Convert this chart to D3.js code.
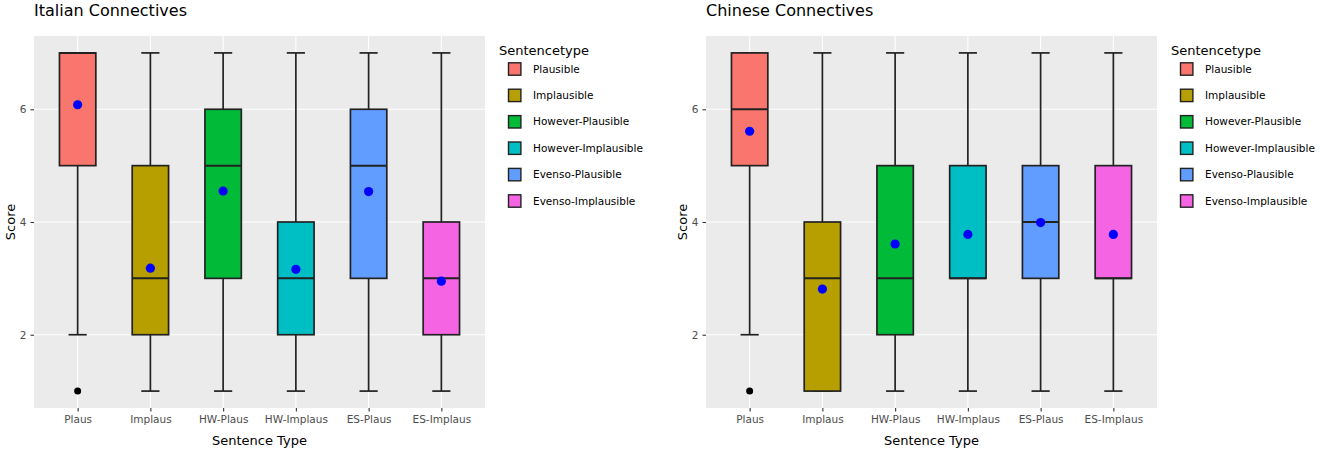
<!DOCTYPE html>
<html>
<head>
<meta charset="utf-8">
<script src="https://cdn.jsdelivr.net/npm/d3@7"></script>
<style>
  body { margin: 0; background: #fff; }
  svg text { font-family: "DejaVu Sans", Verdana, sans-serif; }
</style>
</head>
<body>
<svg id="chart"></svg>
<script>
// categories / legend
const categories = ["Plaus", "Implaus", "HW-Plaus", "HW-Implaus", "ES-Plaus", "ES-Implaus"];
const legendLabels = ["Plausible", "Implausible", "However-Plausible", "However-Implausible", "Evenso-Plausible", "Evenso-Implausible"];
const yTicks = [2, 4, 6];

// Italian connectives - box stats
const itLower = [2, 1, 1, 1, 1, 1];
const itQ1 = [5, 2, 3, 2, 3, 2];
const itMedian = [7, 3, 5, 3, 5, 3];
const itQ3 = [7, 5, 6, 4, 6, 4];
const itUpper = [7, 7, 7, 7, 7, 7];
const itMean = [6.08, 3.18, 4.55, 3.16, 4.54, 2.95];
const itOutliers = [[1], [], [], [], [], []];

// Chinese connectives
const zhLower = [2, 1, 1, 1, 1, 1];
const zhQ1 = [5, 1, 2, 3, 3, 3];
const zhMedian = [6, 3, 3, 3, 4, 3];
const zhQ3 = [7, 4, 5, 5, 5, 5];
const zhUpper = [7, 7, 7, 7, 7, 7];
const zhMean = [5.61, 2.81, 3.61, 3.78, 3.99, 3.78];
const zhOutliers = [[1], [], [], [], [], []];

const palette = ["#F8766D", "#B79F00", "#00BA38", "#00BFC4", "#619CFF", "#F564E3"];

function buildRows(lower, q1, median, q3, upper, mean, outliers) {
  return categories.map((c, i) => ({
    cat: c, lower: lower[i], q1: q1[i], median: median[i], q3: q3[i],
    upper: upper[i], mean: mean[i], outliers: outliers[i], fill: palette[i]
  }));
}

class BoxPanel {

    constructor(_config, _data) {
      this.config = {
        svg: _config.svg,
        title: _config.title,
        left: _config.left,
        top: _config.top || 36,
        width: _config.width || 451,
        height: _config.height || 372
      }
      this.data = _data;
      this.initVis();
    }

    initVis() {
      let vis = this;

      vis.xScale = d3.scalePoint()
          .domain(categories)
          .range([0, vis.config.width])
          .padding(0.6);

      // ggplot default expansion: 5% of 1..7
      vis.yScale = d3.scaleLinear()
          .domain([0.7, 7.3])
          .range([vis.config.height, 0]);

      vis.g = vis.config.svg.append('g');

      vis.chart = vis.g.append('g')
          .attr('transform', `translate(${vis.config.left},${vis.config.top})`);

      vis.chart.append('rect')
          .attr('width', vis.config.width)
          .attr('height', vis.config.height)
          .attr('fill', '#EBEBEB');

      vis.renderVis();
    }

    renderVis() {
      let vis = this;
      let step = vis.xScale.step();
      let boxW = step * 0.5;
      let capW = step * 0.25;
      let x = vis.xScale, y = vis.yScale;

      // grid
      vis.chart.selectAll('.hgrid').data(yTicks).join('line')
          .attr('x1', 0).attr('x2', vis.config.width)
          .attr('y1', d => y(d)).attr('y2', d => y(d))
          .attr('stroke', '#fff').attr('stroke-width', 1.1);
      vis.chart.selectAll('.vgrid').data(categories).join('line')
          .attr('y1', 0).attr('y2', vis.config.height)
          .attr('x1', d => x(d)).attr('x2', d => x(d))
          .attr('stroke', '#fff').attr('stroke-width', 1.1);

      let boxes = vis.chart.append('g').selectAll('g').data(vis.data).join('g');

      // whisker caps (errorbar)
      boxes.selectAll('.cap').data(d => [d.lower, d.upper].map(v => ({v, cat: d.cat}))).join('line')
          .attr('x1', d => x(d.cat) - capW / 2).attr('x2', d => x(d.cat) + capW / 2)
          .attr('y1', d => y(d.v)).attr('y2', d => y(d.v))
          .attr('stroke', '#222').attr('stroke-width', 1.7);

      // whiskers
      boxes.append('line')
          .attr('x1', d => x(d.cat)).attr('x2', d => x(d.cat))
          .attr('y1', d => y(d.upper)).attr('y2', d => y(d.q3))
          .attr('stroke', '#222').attr('stroke-width', 1.7);
      boxes.append('line')
          .attr('x1', d => x(d.cat)).attr('x2', d => x(d.cat))
          .attr('y1', d => y(d.q1)).attr('y2', d => y(d.lower))
          .attr('stroke', '#222').attr('stroke-width', 1.7);

      boxes.append('rect')
          .attr('x', d => x(d.cat) - boxW / 2)
          .attr('width', boxW)
          .attr('y', d => y(d.q3))
          .attr('height', d => y(d.q1) - y(d.q3))
          .attr('fill', d => d.fill)
          .attr('stroke', '#222').attr('stroke-width', 1.7);

      boxes.append('line')
          .attr('x1', d => x(d.cat) - boxW / 2).attr('x2', d => x(d.cat) + boxW / 2)
          .attr('y1', d => y(d.median)).attr('y2', d => y(d.median))
          .attr('stroke', '#222').attr('stroke-width', 2);

      boxes.selectAll('.outlier').data(d => d.outliers.map(v => ({v, cat: d.cat}))).join('circle')
          .attr('cx', d => x(d.cat)).attr('cy', d => y(d.v))
          .attr('r', 3.5).attr('fill', '#000');

      boxes.append('circle')
          .attr('cx', d => x(d.cat)).attr('cy', d => y(d.mean))
          .attr('r', 4.6).attr('fill', '#0000FF');

      // axes
      let yAxis = d3.axisLeft(y).tickValues(yTicks).tickFormat(d3.format('d'))
          .tickSize(3.5).tickPadding(4).tickSizeOuter(0);
      let yAxisG = vis.chart.append('g').call(yAxis);
      let xAxis = d3.axisBottom(x).tickSize(3.5).tickPadding(4).tickSizeOuter(0);
      let xAxisG = vis.chart.append('g')
          .attr('transform', `translate(0,${vis.config.height})`)
          .call(xAxis);
      [yAxisG, xAxisG].forEach(a => {
        a.select('.domain').remove();
        a.selectAll('.tick line').attr('stroke', '#333').attr('stroke-width', 1.1);
        a.selectAll('.tick text')
            .attr('fill', '#4D4D4D')
            .style('font-size', '10.5px')
            .style('font-family', '"DejaVu Sans", Verdana, sans-serif');
      });

      let L = vis.config.left, T = vis.config.top, W = vis.config.width, H = vis.config.height;

      vis.g.append('text')
          .attr('x', L).attr('y', 15.7)
          .style('font-size', '16px')
          .text(vis.config.title);

      vis.g.append('text')
          .attr('x', L + W / 2).attr('y', 445)
          .attr('text-anchor', 'middle')
          .style('font-size', '13px')
          .text('Sentence Type');

      vis.g.append('text')
          .attr('transform', `translate(${L - 19.5},${T + H / 2}) rotate(-90)`)
          .attr('text-anchor', 'middle')
          .style('font-size', '13px')
          .text('Score');

      // legend
      let lg = vis.g.append('g').attr('transform', `translate(${L + W},0)`);
      lg.append('text')
          .attr('x', 14).attr('y', 55)
          .style('font-size', '13px')
          .text('Sentencetype');
      let items = lg.selectAll('.item').data(legendLabels).join('g')
          .attr('transform', (d, i) => `translate(0,${69 + i * 26.4})`);
      items.append('rect')
          .attr('x', 23.5).attr('y', -6.2)
          .attr('width', 12.4).attr('height', 12.4)
          .attr('fill', (d, i) => palette[i])
          .attr('stroke', '#222').attr('stroke-width', 1.4);
      items.append('text')
          .attr('x', 48).attr('y', 0)
          .attr('dy', '0.35em')
          .style('font-size', '10.5px')
          .text(d => d);
    }
}

const svg = d3.select('#chart').attr('width', 1325).attr('height', 450);

new BoxPanel({svg, title: 'Italian Connectives', left: 34},
    buildRows(itLower, itQ1, itMedian, itQ3, itUpper, itMean, itOutliers));
new BoxPanel({svg, title: 'Chinese Connectives', left: 706},
    buildRows(zhLower, zhQ1, zhMedian, zhQ3, zhUpper, zhMean, zhOutliers));
</script>
</body>
</html>
